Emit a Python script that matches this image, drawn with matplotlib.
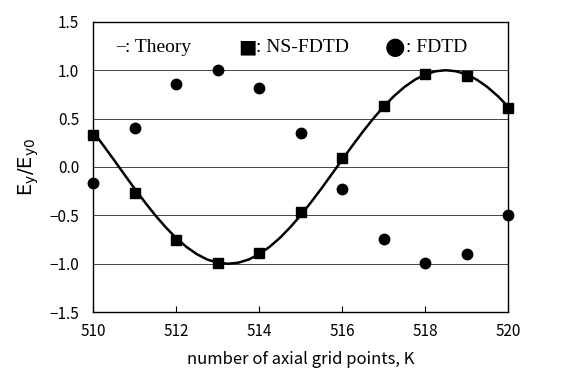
import matplotlib
matplotlib.use("Agg")
import matplotlib.pyplot as plt

# NS-FDTD (squares) and FDTD (circles) at each grid point K
K = [510, 511, 512, 513, 514, 515, 516, 517, 518, 519, 520]
ns_fdtd = [0.33, -0.27, -0.75, -0.99, -0.89, -0.47, 0.09, 0.63, 0.96, 0.94, 0.61]
fdtd = [-0.17, 0.40, 0.86, 1.00, 0.82, 0.35, -0.23, -0.74, -0.99, -0.90, -0.50]

# theory curve, every 0.25
theory_k = [510, 510.25, 510.5, 510.75, 511, 511.25, 511.5, 511.75,
            512, 512.25, 512.5, 512.75, 513, 513.25, 513.5, 513.75,
            514, 514.25, 514.5, 514.75, 515, 515.25, 515.5, 515.75,
            516, 516.25, 516.5, 516.75, 517, 517.25, 517.5, 517.75,
            518, 518.25, 518.5, 518.75, 519, 519.25, 519.5, 519.75, 520]
theory = [0.365, 0.222, 0.075, -0.075, -0.223, -0.365, -0.5, -0.623,
          -0.733, -0.826, -0.901, -0.956, -0.989, -1.0, -0.989, -0.956,
          -0.901, -0.826, -0.733, -0.623, -0.5, -0.365, -0.223, -0.075,
          0.075, 0.222, 0.365, 0.5, 0.623, 0.733, 0.826, 0.901,
          0.956, 0.989, 1.0, 0.989, 0.956, 0.901, 0.826, 0.733, 0.623]

yticks = [-1.5, -1.0, -0.5, 0.0, 0.5, 1.0, 1.5]
xticks = [510, 512, 514, 516, 518, 520]

sans = ['Noto Sans CJK JP', 'DejaVu Sans']
serif = ['Liberation Serif', 'DejaVu Sans']

fig = plt.figure(figsize=(5.64, 3.83), dpi=100)
ax = fig.add_axes([0.165, 0.185, 0.736, 0.758])

for y in yticks[1:-1]:
    ax.axhline(y, color='#444444', lw=0.7, zorder=1)

ax.plot(theory_k, theory, color='black', lw=1.8, zorder=2)
ax.plot(K, ns_fdtd, 's', color='black', ms=7.5, zorder=3, clip_on=False)
ax.plot(K, fdtd, 'o', color='black', ms=7.5, zorder=3, clip_on=False)

ax.set_xlim(510, 520)
ax.set_ylim(-1.5, 1.5)
ax.set_xticks(xticks)
ax.set_yticks(yticks)
ax.set_xticklabels([str(x) for x in xticks], family=sans, fontsize=11)
ax.set_yticklabels(['%.1f' % y if y >= 0 else '\u2212%.1f' % -y for y in yticks],
                   family=sans, fontsize=11)
ax.tick_params(axis='x', direction='in', length=4, pad=8)
ax.tick_params(axis='y', length=0, pad=10)
for s in ax.spines.values():
    s.set_linewidth(1.0)

ax.set_xlabel('number of axial grid points, K', family=sans, fontsize=12, labelpad=8)
ax.set_ylabel(r'$\mathsf{E_y/E_{y0}}$', fontsize=14, labelpad=6)

# legend written as text, as in the original figure
ly = 0.913
ax.text(0.056, ly, '\u2013', transform=ax.transAxes, family=serif, fontsize=13, va='center')
ax.text(0.076, ly, ': Theory', transform=ax.transAxes, family=serif, fontsize=14, va='center')
ax.text(0.350, ly, '\u25a0', transform=ax.transAxes, family=['DejaVu Sans'], fontsize=14, va='center')
ax.text(0.392, ly, ': NS-FDTD', transform=ax.transAxes, family=serif, fontsize=14, va='center')
ax.text(0.703, ly, '\u25cf', transform=ax.transAxes, family=['DejaVu Sans'], fontsize=17, va='center')
ax.text(0.754, ly, ': FDTD', transform=ax.transAxes, family=serif, fontsize=14, va='center')

fig.savefig('out.png', dpi=100)
